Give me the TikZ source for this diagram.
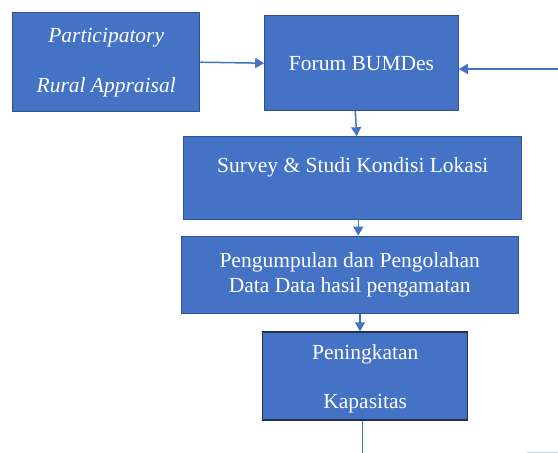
\documentclass[tikz,border=0pt]{standalone}
\usepackage{fontspec}
\setmainfont{Liberation Serif}
\usetikzlibrary{arrows.meta}
\definecolor{boxblue}{HTML}{4472C4}
\definecolor{boxedge}{HTML}{2F528F}
\definecolor{darkedge}{HTML}{1F2F55}
\definecolor{faint}{HTML}{C5D5EE}
\tikzset{
  flowbox/.style={rectangle, fill=boxblue, draw=boxedge, line width=1pt, inner sep=0pt, text=white, align=center},
  boxtext/.style={text=white, align=center, inner sep=0pt},
  flowarrow/.style={draw=boxblue, line width=1.5pt, -{Triangle[length=9pt,width=10pt]}},
  flowline/.style={draw=boxblue, line width=1.5pt}
}
\begin{document}
\begin{tikzpicture}[x=1pt,y=-1pt]
\useasboundingbox (0,0) rectangle (558,453);
\node[flowbox, minimum width=187.5pt, minimum height=99.5pt,
  font=\fontsize{21.5}{50}\selectfont\itshape] (pra) at (106.2,62.2) {Participatory\\Rural Appraisal};
\node[flowbox, minimum width=193.6pt, minimum height=95pt,
  font=\fontsize{21.5}{25}\selectfont] (forum) at (361.5,63.2) {Forum BUMDes};
\node[flowbox, minimum width=337.7pt, minimum height=82.6pt] (survey) at (352.8,178) {};
\node[boxtext, font=\fontsize{21.5}{25}\selectfont] (surveytext) at (352.8,167) {Survey \& Studi Kondisi Lokasi};
\node[flowbox, minimum width=337.3pt, minimum height=77.3pt,
  font=\fontsize{21.5}{25}\selectfont] (peng) at (349.7,274.7) {Pengumpulan dan Pengolahan\\Data Data hasil pengamatan};
\node[flowbox, draw=darkedge, line width=1.5pt, minimum width=205pt, minimum height=88pt] (pen) at (365.2,376) {};
\node[boxtext, font=\fontsize{21.5}{48.7}\selectfont] (pentext) at (365.2,379) {Peningkatan\\Kapasitas};
\coordinate (rightin) at (558,69);
\coordinate (downend) at (362.7,454);
\draw[flowarrow] (pra.east) -- (forum.west);
\draw[flowarrow] (rightin) -- ([yshift=-5.8pt]forum.east);
\draw[flowarrow] ([xshift=-6.2pt]forum.south) -- ([xshift=3.9pt]survey.north);
\draw[flowarrow] ([xshift=5.5pt]survey.south) -- ([xshift=8.6pt]peng.north);
\draw[flowarrow] ([xshift=10.3pt]peng.south) -- ([xshift=-5.2pt]pen.north);
\draw[flowline] ([xshift=-2.5pt]pen.south) -- (downend);
\coordinate (fa) at (527,452.5);
\coordinate (fb) at (558,452.5);
\draw[draw=faint, line width=1.2pt] (fa) -- (fb);
\end{tikzpicture}
\end{document}
